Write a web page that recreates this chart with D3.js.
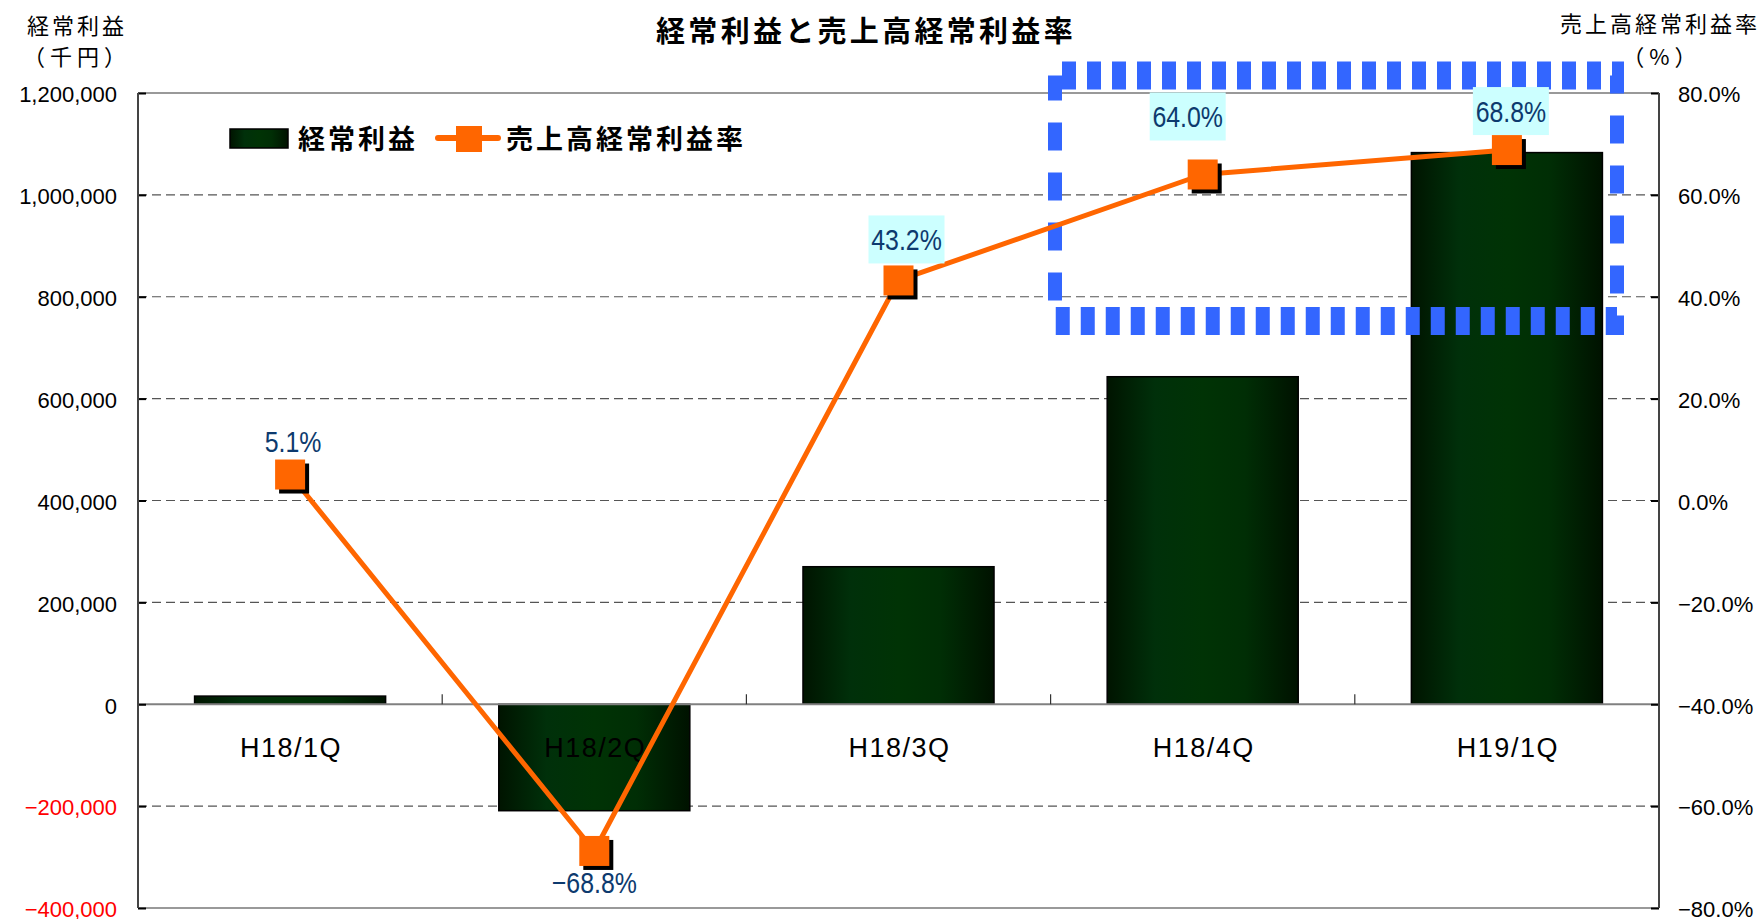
<!DOCTYPE html>
<html>
<head>
<meta charset="utf-8">
<script src="https://cdn.jsdelivr.net/npm/d3@7"></script>
<style>
  html, body { margin: 0; padding: 0; background: #fff; }
  svg { display: block; }
</style>
</head>
<body>
<svg id="chart" width="1762" height="919"></svg>
<script>
// ---- data ----
const categories = ["H18/1Q", "H18/2Q", "H18/3Q", "H18/4Q", "H19/1Q"];
const ordinaryProfit = [16000, -209000, 270000, 643000, 1083000];   // 経常利益 (千円)
const profitRate = [5.1, -68.8, 43.2, 64.0, 68.8];                 // 売上高経常利益率 (%)
const leftTicks = [-400000, -200000, 0, 200000, 400000, 600000, 800000, 1000000, 1200000];
const rightTicks = [-80, -60, -40, -20, 0, 20, 40, 60, 80];
const title = "経常利益と売上高経常利益率";
const leftTitle = ["経常利益", "（千円）"];
const rightTitle = ["売上高経常利益率", "（%）"];
const seriesNames = ["経常利益", "売上高経常利益率"];

// ---- layout (styling, not data) ----
const labelOffsets = [[3, -33], [0, 31], [8, -41], [-15, -58], [4, -39]];
const labelBoxed = [false, false, true, true, true];

const svg = d3.select("#chart");
const L = 138, R = 1659, T = 93, B = 908;
const JP = "'Noto Sans CJK JP', sans-serif";
const NUM = "'Liberation Sans', Arial, sans-serif";

const x = d3.scaleBand().domain(categories).range([L, R]).paddingInner(0.372).paddingOuter(0.186);
const yL = d3.scaleLinear().domain([-400000, 1200000]).range([B, T]);
const yR = d3.scaleLinear().domain([-80, 80]).range([B, T]);
const cx = d => x(d) + x.bandwidth() / 2;

// gradient for bars
const defs = svg.append("defs");
const grad = defs.append("linearGradient").attr("id", "barGrad").attr("x1", "0").attr("x2", "1").attr("y1", "0").attr("y2", "0");
[[0, "#001400"], [0.25, "#00300a"], [0.5, "#003305"], [0.72, "#002e05"], [1, "#001200"]].forEach(([o, c]) =>
  grad.append("stop").attr("offset", o).attr("stop-color", c));

// gridlines
svg.append("g").selectAll("line")
  .data(leftTicks.filter(v => v !== 0 && v !== 1200000 && v !== -400000))
  .join("line")
  .attr("x1", L).attr("x2", R)
  .attr("y1", d => yL(d)).attr("y2", d => yL(d))
  .attr("stroke", "#555").attr("stroke-width", 1.2).attr("stroke-dasharray", "9,5");

// borders
svg.append("line").attr("x1", L).attr("x2", R).attr("y1", T).attr("y2", T).attr("stroke", "#999").attr("stroke-width", 2);
svg.append("line").attr("x1", L).attr("x2", R).attr("y1", B).attr("y2", B).attr("stroke", "#999").attr("stroke-width", 2);

// bars
svg.append("g").selectAll("rect")
  .data(categories)
  .join("rect")
  .attr("x", d => x(d))
  .attr("width", x.bandwidth())
  .attr("y", (d, i) => Math.min(yL(ordinaryProfit[i]), yL(0)))
  .attr("height", (d, i) => Math.abs(yL(ordinaryProfit[i]) - yL(0)))
  .attr("fill", "url(#barGrad)")
  .attr("stroke", "#000").attr("stroke-width", 1.5);

// zero line & category ticks
svg.append("line").attr("x1", L).attr("x2", R).attr("y1", yL(0)).attr("y2", yL(0)).attr("stroke", "#808080").attr("stroke-width", 2);
svg.append("g").selectAll("line")
  .data(categories.slice(1))
  .join("line")
  .attr("x1", d => x(d) - x.step() * x.paddingInner() / 2)
  .attr("x2", d => x(d) - x.step() * x.paddingInner() / 2)
  .attr("y1", yL(0)).attr("y2", yL(0) - 10)
  .attr("stroke", "#333").attr("stroke-width", 1.2);

// category labels
svg.append("g").selectAll("text")
  .data(categories)
  .join("text")
  .attr("x", d => cx(d) + 1)
  .attr("y", yL(0) + 53)
  .attr("text-anchor", "middle")
  .attr("font-family", NUM).attr("font-size", 27).attr("letter-spacing", 1.5)
  .attr("fill", "#000")
  .text(d => d);

// left axis
const gL = svg.append("g").attr("transform", `translate(${L},0)`)
  .call(d3.axisLeft(yL).tickValues(leftTicks).tickFormat(d3.format(",")).tickSizeInner(-8).tickSizeOuter(0).tickPadding(21));
gL.select(".domain").remove();
gL.selectAll(".tick line").attr("stroke", "#000").attr("stroke-width", 2);
gL.selectAll(".tick text").attr("font-family", NUM).attr("font-size", 22)
  .attr("fill", d => d < 0 ? "#ff0000" : "#000").attr("dy", "0.4em");
svg.append("line").attr("x1", L).attr("x2", L).attr("y1", T).attr("y2", B).attr("stroke", "#444").attr("stroke-width", 2);

// right axis
const gR = svg.append("g").attr("transform", `translate(${R},0)`)
  .call(d3.axisRight(yR).tickValues(rightTicks).tickFormat(d => d3.format(".1f")(d) + "%").tickSizeInner(-8).tickSizeOuter(0).tickPadding(19));
gR.select(".domain").remove();
gR.selectAll(".tick line").attr("stroke", "#000").attr("stroke-width", 2);
gR.selectAll(".tick text").attr("font-family", NUM).attr("font-size", 22).attr("fill", "#000").attr("dy", "0.4em");
svg.append("line").attr("x1", R).attr("x2", R).attr("y1", T).attr("y2", B).attr("stroke", "#444").attr("stroke-width", 2);

// blue dotted highlight frame (annotation)
const fx0 = 1055, fx1 = 1617, fy0 = 75.5, fy1 = 321;
svg.append("g").attr("transform", `translate(${fx0},${fy0}) scale(1,2)`)
  .append("rect")
  .attr("x", 0).attr("y", 0).attr("width", fx1 - fx0).attr("height", (fy1 - fy0) / 2)
  .attr("fill", "none").attr("stroke", "#3366ff").attr("stroke-width", 14)
  .attr("stroke-dasharray", "14,11").attr("stroke-dashoffset", -7);

// line
svg.append("path")
  .datum(profitRate)
  .attr("d", d3.line().x((d, i) => cx(categories[i])).y(d => yR(d)))
  .attr("fill", "none").attr("stroke", "#ff6600").attr("stroke-width", 5).attr("stroke-linejoin", "round");

// markers
const mk = svg.append("g");
mk.selectAll("rect.sh").data(profitRate).join("rect").attr("class", "sh")
  .attr("x", (d, i) => cx(categories[i]) - 15 + 4).attr("y", d => yR(d) - 15 + 4)
  .attr("width", 30).attr("height", 30).attr("fill", "#000");
mk.selectAll("rect.mk").data(profitRate).join("rect").attr("class", "mk")
  .attr("x", (d, i) => cx(categories[i]) - 15).attr("y", d => yR(d) - 15)
  .attr("width", 30).attr("height", 30).attr("fill", "#ff6600");

// data labels (condensed numerals)
const lab = svg.append("g");
profitRate.forEach((v, i) => {
  const tx = cx(categories[i]) + labelOffsets[i][0];
  const ty = yR(v) + labelOffsets[i][1];
  if (labelBoxed[i]) {
    lab.append("rect").attr("x", tx - 38).attr("y", ty - 24).attr("width", 76).attr("height", 48).attr("fill", "#ccffff");
  }
  lab.append("g").attr("transform", `translate(${tx},${ty}) scale(0.83,1)`)
    .append("text").attr("x", 0).attr("y", 0).attr("dy", "0.36em")
    .attr("text-anchor", "middle").attr("font-family", NUM).attr("font-size", 30)
    .attr("fill", "#0d3a6e")
    .text(d3.format(".1f")(v) + "%");
});

// title
svg.append("text").attr("x", 866).attr("y", 31.5).attr("dy", "0.36em").attr("text-anchor", "middle")
  .attr("font-family", JP).attr("font-weight", "bold").attr("font-size", 29).attr("letter-spacing", 3.3)
  .attr("fill", "#000").text(title);

// axis titles
svg.append("text").attr("x", 77).attr("y", 26.5).attr("dy", "0.36em").attr("text-anchor", "middle")
  .attr("font-family", JP).attr("font-size", 22).attr("letter-spacing", 3).text(leftTitle[0]);
svg.append("text").attr("x", 77).attr("y", 57).attr("dy", "0.36em").attr("text-anchor", "middle")
  .attr("font-family", JP).attr("font-size", 22).attr("letter-spacing", 5).text(leftTitle[1]);
svg.append("text").attr("x", 1660).attr("y", 24.5).attr("dy", "0.36em").attr("text-anchor", "middle")
  .attr("font-family", JP).attr("font-size", 22).attr("letter-spacing", 3).text(rightTitle[0]);
svg.append("text").attr("x", 1662).attr("y", 57).attr("dy", "0.36em").attr("text-anchor", "middle")
  .attr("font-family", JP).attr("font-size", 22).attr("letter-spacing", 5).text(rightTitle[1]);

// legend
const lg = svg.append("g");
lg.append("rect").attr("x", 230).attr("y", 129).attr("width", 58).attr("height", 19)
  .attr("fill", "url(#barGrad)").attr("stroke", "#000").attr("stroke-width", 1.5);
lg.append("text").attr("x", 298).attr("y", 139).attr("dy", "0.36em")
  .attr("font-family", JP).attr("font-weight", "bold").attr("font-size", 27).attr("letter-spacing", 3).text(seriesNames[0]);
lg.append("line").attr("x1", 438).attr("x2", 498).attr("y1", 138).attr("y2", 138)
  .attr("stroke", "#ff6600").attr("stroke-width", 6).attr("stroke-linecap", "round");
lg.append("rect").attr("x", 456).attr("y", 126).attr("width", 26).attr("height", 26).attr("fill", "#ff6600");
lg.append("text").attr("x", 506).attr("y", 139).attr("dy", "0.36em")
  .attr("font-family", JP).attr("font-weight", "bold").attr("font-size", 27).attr("letter-spacing", 3).text(seriesNames[1]);
</script>
</body>
</html>
